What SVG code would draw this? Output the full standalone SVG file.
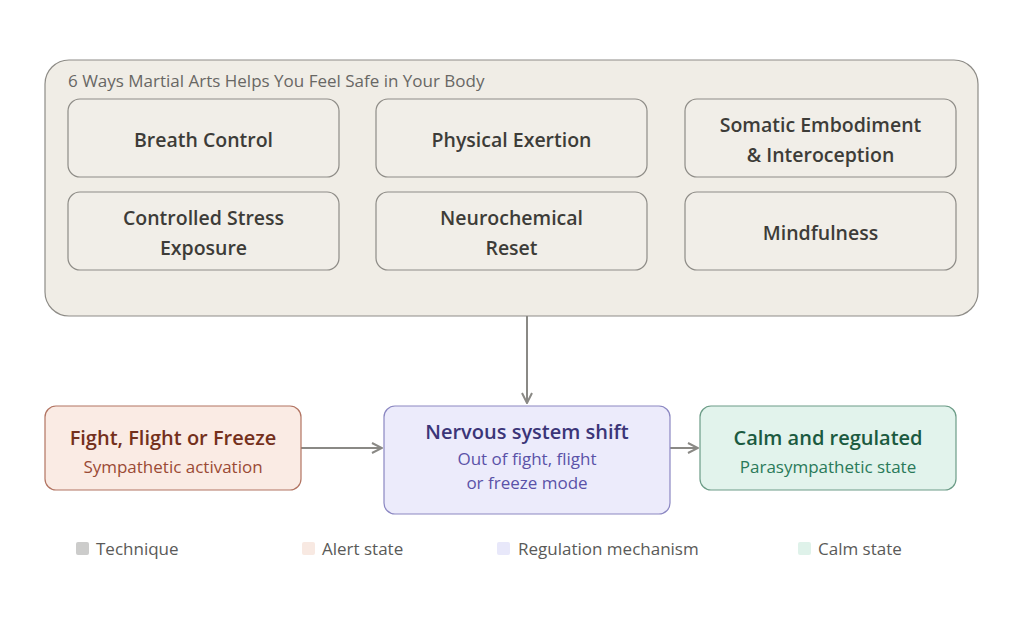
<svg xmlns="http://www.w3.org/2000/svg" width="1024" height="632" viewBox="0 0 1024 632">
<style>
text{font-family:"Open Sans","Noto Sans","Liberation Sans",sans-serif}
.tile{fill:#f1eee8;stroke:#8e8c87;stroke-width:1.2}
.tt{font-size:19.5px;font-weight:600;fill:#3d3c38;text-anchor:middle}
.h{font-size:20px;font-weight:600;text-anchor:middle}
.s{font-size:17px;text-anchor:middle}
.lg{font-size:17px;fill:#5a5a58}
.conn{stroke:#8a8985;stroke-width:2;fill:none}
</style>
<defs>
<marker id="arr" viewBox="0 0 12 12" refX="11" refY="6" markerWidth="12" markerHeight="12" markerUnits="userSpaceOnUse" orient="auto">
<path d="M1,1 L11,6 L1,11" fill="none" stroke="#8a8985" stroke-width="2"/>
</marker>
</defs>
<rect width="1024" height="632" fill="#ffffff"/>
<g id="container">
<rect x="45" y="60" width="933" height="256" rx="24" fill="#f0ede6" stroke="#8e8c87" stroke-width="1.2"/>
<text x="68" y="87" style="font-size:17px;fill:#686764">6 Ways Martial Arts Helps You Feel Safe in Your Body</text>
</g>
<g id="breath"><rect class="tile" x="68" y="99" width="271" height="78" rx="12"/><text class="tt" x="203.5" y="147">Breath Control</text></g>
<g id="physical"><rect class="tile" x="376" y="99" width="271" height="78" rx="12"/><text class="tt" x="511.5" y="147">Physical Exertion</text></g>
<g id="somatic"><rect class="tile" x="685" y="99" width="271" height="78" rx="12"/><text class="tt" x="820.5" y="132">Somatic Embodiment</text><text class="tt" x="820.5" y="162">&amp; Interoception</text></g>
<g id="stress"><rect class="tile" x="68" y="192" width="271" height="78" rx="12"/><text class="tt" x="203.5" y="225">Controlled Stress</text><text class="tt" x="203.5" y="255">Exposure</text></g>
<g id="neuro"><rect class="tile" x="376" y="192" width="271" height="78" rx="12"/><text class="tt" x="511.5" y="225">Neurochemical</text><text class="tt" x="511.5" y="255">Reset</text></g>
<g id="mindfulness"><rect class="tile" x="685" y="192" width="271" height="78" rx="12"/><text class="tt" x="820.5" y="240">Mindfulness</text></g>
<g id="connectors">
<line class="conn" x1="527" y1="316" x2="527" y2="403" marker-end="url(#arr)"/>
<line class="conn" x1="301" y1="448" x2="382" y2="448" marker-end="url(#arr)"/>
<line class="conn" x1="670" y1="448" x2="698" y2="448" marker-end="url(#arr)"/>
</g>
<g id="fight"><rect x="45" y="406" width="256" height="84" rx="11" fill="#faebe4" stroke="#b27462" stroke-width="1.2"/>
<text class="h" x="173" y="445" fill="#74301c">Fight, Flight or Freeze</text>
<text class="s" x="173" y="473" fill="#9a4a35">Sympathetic activation</text></g>
<g id="nervous"><rect x="384" y="406" width="286" height="108" rx="11" fill="#ecebfb" stroke="#8b87c2" stroke-width="1.2"/>
<text class="h" x="527" y="439" fill="#3b3578">Nervous system shift</text>
<text class="s" x="527" y="465" fill="#5a52a8">Out of fight, flight</text>
<text class="s" x="527" y="489" fill="#5a52a8">or freeze mode</text></g>
<g id="calm"><rect x="700" y="406" width="256" height="84" rx="11" fill="#e2f3ec" stroke="#6c9c87" stroke-width="1.2"/>
<text class="h" x="828" y="445" fill="#1b5a40">Calm and regulated</text>
<text class="s" x="828" y="473" fill="#2a7a5a">Parasympathetic state</text></g>
<g id="legend">
<rect x="76" y="542" width="13" height="13" rx="2" fill="#cccccb"/><text class="lg" x="96" y="555">Technique</text>
<rect x="302" y="542" width="13" height="13" rx="2" fill="#f8e9e2"/><text class="lg" x="322" y="555">Alert state</text>
<rect x="497" y="542" width="13" height="13" rx="2" fill="#e8e8fa"/><text class="lg" x="518" y="555">Regulation mechanism</text>
<rect x="798" y="542" width="13" height="13" rx="2" fill="#dff2ea"/><text class="lg" x="818" y="555">Calm state</text>
</g>
</svg>
